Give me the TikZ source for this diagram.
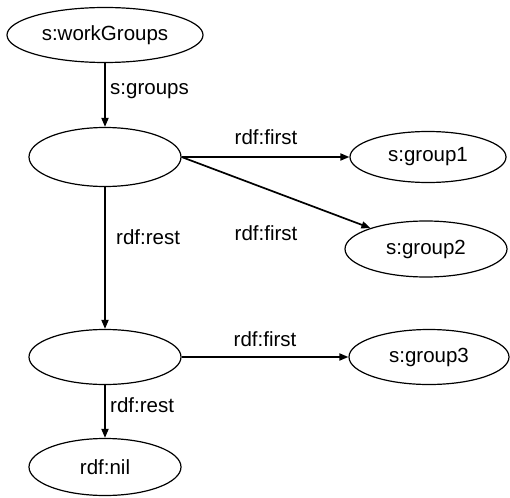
\documentclass[tikz,border=0pt]{standalone}
\usepackage{fontspec}
\setmainfont{Liberation Sans}
\usepackage{tikz}
\usetikzlibrary{shapes.geometric, arrows.meta}
\tikzset{
  res/.style={ellipse, draw, line width=1.2pt, inner sep=0pt, font=\fontsize{20.5}{24}\selectfont},
  arrow/.style={-{Triangle[length=9pt,width=7pt]}, line width=1.7pt},
  prop/.style={font=\fontsize{20.5}{24}\selectfont, inner sep=0pt},
}

\begin{document}
\begin{tikzpicture}[x=1pt, y=-1pt]
  \useasboundingbox (0,0) rectangle (510,497);

  % Resources
  \node[res, minimum width=196pt, minimum height=55pt] (groups) at (105,35) {s:workGroups};
  \node[res, minimum width=152pt, minimum height=59pt] (list1) at (105,157) {};
  \node[res, minimum width=152pt, minimum height=55pt] (list2) at (105,357) {};
  \node[res, minimum width=152pt, minimum height=57pt] (nil) at (105,467) {rdf:nil};
  \node[res, minimum width=156pt, minimum height=51pt] (g1) at (428,157) {s:group1};
  \node[res, minimum width=162pt, minimum height=56pt] (g2) at (426,249) {s:group2};
  \node[res, minimum width=160pt, minimum height=55pt] (g3) at (429,357) {s:group3};

  % Properties
  \draw[arrow] (groups) -- (list1);
  \node[prop, anchor=west] (lgroups) at (110,91) {s:groups};

  \draw[arrow] (list1) -- (g1);
  \node[prop] (lfirst1) at (266,137) {rdf:first};

  \draw[arrow] (list1.east) -- (g2);
  \node[prop] (lfirst2) at (266,233) {rdf:first};

  \draw[arrow] (list1) -- (list2);
  \node[prop, anchor=west] (lrest1) at (116,237) {rdf:rest};

  \draw[arrow] (list2) -- (g3);
  \node[prop] (lfirst3) at (265,339) {rdf:first};

  \draw[arrow] (list2) -- (nil);
  \node[prop, anchor=west] (lrest2) at (110,405) {rdf:rest};

\end{tikzpicture}
\end{document}
